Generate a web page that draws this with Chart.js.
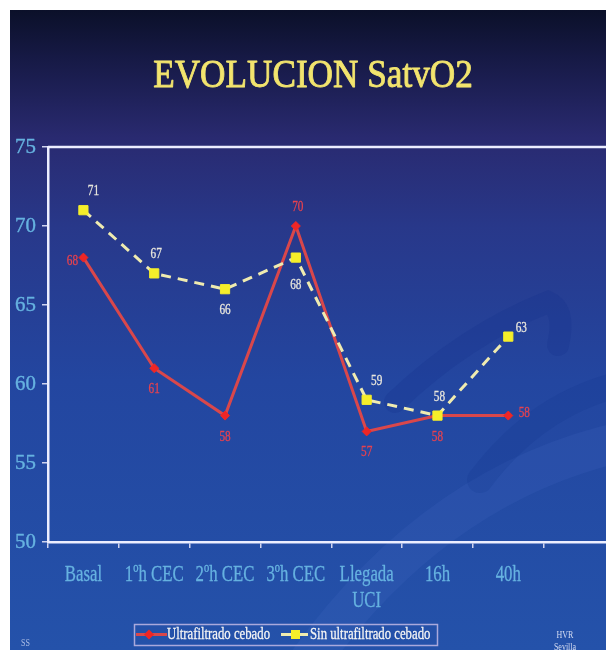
<!DOCTYPE html>
<html>
<head>
<meta charset="utf-8">
<title>EVOLUCION SatvO2</title>
<script src="https://cdn.jsdelivr.net/npm/chart.js@4.4.1/dist/chart.umd.min.js"></script>
<style>
  html, body { margin: 0; padding: 0; background: #ffffff; width: 606px; height: 650px; overflow: hidden; }
  #slide {
    position: absolute; left: 10px; top: 10px; width: 596px; height: 640px; overflow: hidden;
    background: linear-gradient(to bottom, #0b1029 0%, #171a47 8%, #292a70 20%, #28388a 34%, #2346a0 58%, #2452aa 100%);
  }
  #c { position: absolute; left: 0; top: 0; }
</style>
</head>
<body>
<div id="slide"><canvas id="c" width="612" height="640"></canvas></div>
<script>
// Saturación venosa de O2 por momento de medida
const chartTitle = 'EVOLUCION SatvO2';
const categories = ['Basal', '1ºh CEC', '2ºh CEC', '3ºh CEC', ['Llegada', 'UCI'], '16h', '40h'];
const ultrafiltradoCebado = [68, 61, 58, 70, 57, 58, 58];
const sinUltrafiltradoCebado = [71, 67, 66, 68, 59, 58, 63];
const yTicks = [50, 55, 60, 65, 70, 75];
const seriesNames = ['Ultrafiltrado cebado', 'Sin ultrafiltrado cebado'];

// where each value label sits relative to its point
const redLabelAt = ['left', 'down', 'down', 'up', 'down', 'down', 'right'];
const yellowLabelAt = ['upRight', 'up', 'down', 'downFar', 'upRight', 'up', 'rightHigh'];
const labelOffsets = {
  up: [2, -19], upRight: [10, -19], down: [0, 21], downFar: [0, 27],
  left: [-11, 3], right: [16, -3], rightHigh: [13, -9]
};

const SERIF = '"Liberation Serif", "Times New Roman", serif';
const RED_LINE = '#d9474b', RED_POINT = '#ee2626', RED_TEXT = '#e8424e';
const YEL_LINE = '#efebb0', YEL_POINT = '#f5ee2a', YEL_TEXT = '#e8e6dc';
const TICK_TEXT = '#66b2e0';
const AXIS = '#eceeff';

function squeezed(ctx, text, x, y, font, color, align, sx, baseline, weight) {
  ctx.save();
  ctx.font = font;
  ctx.fillStyle = color;
  ctx.textAlign = align || 'center';
  ctx.textBaseline = baseline || 'alphabetic';
  ctx.translate(x, y);
  ctx.scale(sx, 1);
  ctx.fillText(text, 0, 0);
  if (weight) {
    ctx.strokeStyle = color;
    ctx.lineWidth = weight;
    ctx.lineJoin = 'round';
    ctx.strokeText(text, 0, 0);
  }
  ctx.restore();
}

const slidePlugin = {
  id: 'slide',
  beforeDraw(chart) {
    const ctx = chart.ctx;
    // soft background swooshes
    ctx.save();
    ctx.lineCap = 'round';
    ctx.strokeStyle = 'rgba(18, 48, 140, 0.25)';
    ctx.lineWidth = 22;
    ctx.beginPath();
    ctx.moveTo(385, 392);
    ctx.quadraticCurveTo(455, 325, 538, 292);
    ctx.quadraticCurveTo(556, 300, 548, 335);
    ctx.stroke();
    ctx.strokeStyle = 'rgba(90, 130, 215, 0.11)';
    ctx.lineWidth = 40;
    ctx.beginPath();
    ctx.moveTo(300, 650);
    ctx.quadraticCurveTo(430, 470, 620, 430);
    ctx.stroke();
    ctx.strokeStyle = 'rgba(18, 48, 140, 0.18)';
    ctx.lineWidth = 26;
    ctx.beginPath();
    ctx.moveTo(470, 470);
    ctx.quadraticCurveTo(530, 390, 620, 372);
    ctx.stroke();
    ctx.restore();
  },
  beforeDatasetsDraw(chart) {
    const { ctx, chartArea } = chart;
    ctx.save();
    ctx.strokeStyle = AXIS;
    ctx.lineWidth = 2.5;
    ctx.beginPath();
    ctx.moveTo(chartArea.left, chartArea.top);
    ctx.lineTo(chart.width, chartArea.top);
    ctx.stroke();
    ctx.restore();
  },
  afterDatasetsDraw(chart) {
    const ctx = chart.ctx;
    const font = '15px ' + SERIF;
    const specs = [
      { idx: 0, values: ultrafiltradoCebado, at: redLabelAt, color: RED_TEXT },
      { idx: 1, values: sinUltrafiltradoCebado, at: yellowLabelAt, color: YEL_TEXT }
    ];
    specs.forEach(s => {
      const meta = chart.getDatasetMeta(s.idx);
      meta.data.forEach((pt, i) => {
        const off = labelOffsets[s.at[i]];
        squeezed(ctx, String(s.values[i]), pt.x + off[0], pt.y + off[1], font, s.color, 'center', 0.75, 'middle', 0.3);
      });
    });
  },
  afterDraw(chart) {
    const ctx = chart.ctx;
    const xs = chart.scales.x, ys = chart.scales.y;

    // title
    squeezed(ctx, chartTitle, 303, 77, '40px ' + SERIF, '#f2e46e', 'center', 0.88, 'alphabetic', 0.9);

    // y tick labels
    yTicks.forEach(v => {
      squeezed(ctx, String(v), 26, ys.getPixelForValue(v), '22px ' + SERIF, TICK_TEXT, 'right', 0.95, 'middle', 0.4);
    });

    // category labels
    categories.forEach((c, i) => {
      const lines = Array.isArray(c) ? c : [c];
      const x = xs.getPixelForValue(i);
      lines.forEach((ln, k) => {
        squeezed(ctx, ln, x, 571 + k * 26, '23px ' + SERIF, TICK_TEXT, 'center', 0.73, 'alphabetic', 0.3);
      });
    });

    // legend
    ctx.save();
    ctx.strokeStyle = '#a9a9dc';
    ctx.lineWidth = 1.5;
    ctx.strokeRect(124.5, 614.5, 303, 21);
    ctx.lineWidth = 3;
    ctx.strokeStyle = RED_LINE;
    ctx.beginPath(); ctx.moveTo(126, 624.5); ctx.lineTo(157, 624.5); ctx.stroke();
    ctx.fillStyle = RED_POINT;
    ctx.beginPath(); ctx.moveTo(139, 619.5); ctx.lineTo(144, 624.5); ctx.lineTo(139, 629.5); ctx.lineTo(134, 624.5); ctx.closePath(); ctx.fill();
    ctx.strokeStyle = YEL_LINE; ctx.lineWidth = 3;
    ctx.beginPath(); ctx.moveTo(271, 624.5); ctx.lineTo(281, 624.5); ctx.moveTo(290, 624.5); ctx.lineTo(298, 624.5); ctx.stroke();
    ctx.fillStyle = YEL_POINT;
    ctx.fillRect(281, 620, 9, 9);
    ctx.restore();
    squeezed(ctx, seriesNames[0], 157, 629, '17px ' + SERIF, '#f4f4f4', 'left', 0.75, 'alphabetic', 0.3);
    squeezed(ctx, seriesNames[1], 300, 629, '17px ' + SERIF, '#f4f4f4', 'left', 0.75, 'alphabetic', 0.3);

    // footers
    squeezed(ctx, 'SS', 11, 636, '10px ' + SERIF, '#aebfe6', 'left', 0.8);
    squeezed(ctx, 'HVR', 555, 628, '10px ' + SERIF, '#d4dcf2', 'center', 0.8);
    squeezed(ctx, 'Sevilla', 555, 640, '10px ' + SERIF, '#d4dcf2', 'center', 0.8);
  }
};

new Chart(document.getElementById('c'), {
  type: 'line',
  data: {
    labels: [...categories, ''],
    datasets: [
      {
        label: seriesNames[0],
        data: ultrafiltradoCebado,
        borderColor: RED_LINE,
        borderWidth: 3,
        pointStyle: 'rectRot',
        pointRadius: 4.5,
        pointBackgroundColor: RED_POINT,
        pointBorderColor: RED_POINT,
        pointBorderWidth: 1,
        tension: 0,
        order: 2
      },
      {
        label: seriesNames[1],
        data: sinUltrafiltradoCebado,
        borderColor: YEL_LINE,
        borderWidth: 3,
        borderDash: [10, 7],
        pointStyle: 'rect',
        pointRadius: 6.5,
        pointBackgroundColor: YEL_POINT,
        pointBorderColor: YEL_POINT,
        pointBorderWidth: 1,
        tension: 0,
        order: 1
      }
    ]
  },
  options: {
    responsive: false,
    animation: false,
    events: [],
    devicePixelRatio: 1,
    layout: { padding: { top: 137, left: 0, right: 3, bottom: 0 } },
    plugins: { legend: { display: false }, tooltip: { enabled: false }, title: { display: false } },
    scales: {
      x: {
        type: 'category',
        offset: true,
        ticks: { display: false },
        grid: { display: true, offset: true, drawOnChartArea: false, drawTicks: true, tickLength: 6, color: '#cfd3ee', lineWidth: 1.5 },
        border: { display: true, color: AXIS, width: 2.5 },
        afterFit(s) { s.height = 108; }
      },
      y: {
        min: yTicks[0],
        max: yTicks[yTicks.length - 1],
        ticks: { display: false, stepSize: 5 },
        grid: { display: true, drawOnChartArea: false, drawTicks: true, tickLength: 6, color: '#cfd3ee', lineWidth: 1.5 },
        border: { display: true, color: AXIS, width: 2.5 },
        afterFit(s) { s.width = 38; }
      }
    }
  },
  plugins: [slidePlugin]
});
</script>
</body>
</html>
